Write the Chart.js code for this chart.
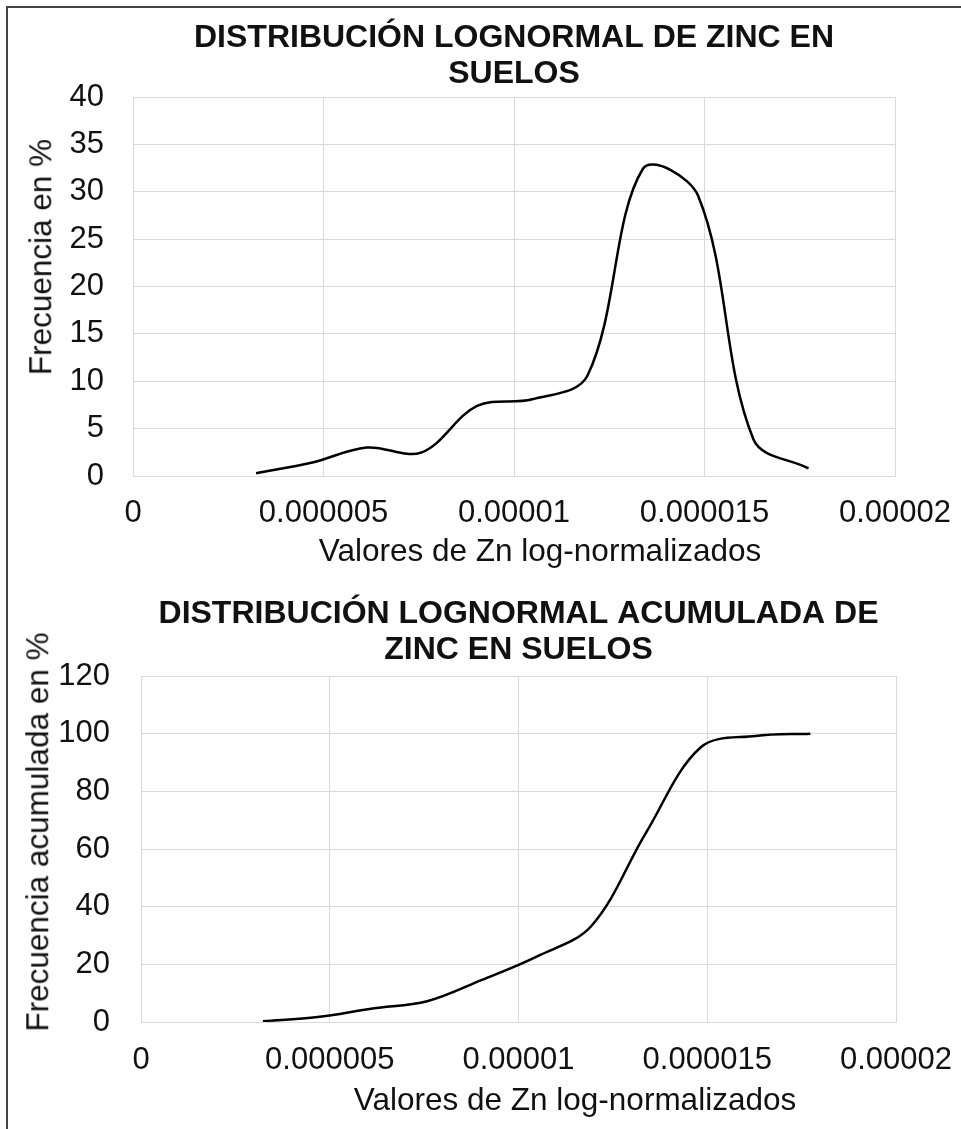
<!DOCTYPE html>
<html lang="es">
<head>
<meta charset="utf-8">
<title>Distribución lognormal de zinc en suelos</title>
<script src="https://cdn.jsdelivr.net/npm/chart.js@4.4.1/dist/chart.umd.min.js"></script>
<style>
    html, body { margin: 0; padding: 0; background: #fff; }
    #pagina { position: relative; width: 961px; height: 1129px; overflow: hidden; font-family: 'Liberation Sans', Arial, sans-serif; color: #111; }
    canvas { position: absolute; left: 0; }
    #grafico-frecuencia { top: 0; }
    #grafico-acumulada { top: 580px; }
    .titulo-eje { position: absolute; font-size: 31.5px; line-height: 1; white-space: nowrap; transform: translate(-50%, -50%); }
    .titulo-eje.vertical { transform: translate(-50%, -50%) rotate(-90deg); }
    #marco { position: absolute; left: 6px; top: 6px; right: -4px; bottom: -4px; border-left: 2px solid #444; border-top: 2px solid #444; pointer-events: none; }
</style>
</head>
<body>
<div id="pagina">
    <canvas id="grafico-frecuencia" width="961" height="580"></canvas>
    <canvas id="grafico-acumulada" width="961" height="549"></canvas>
    <div class="titulo-eje vertical" style="left:40.5px; top:256.5px">Frecuencia en %</div>
    <div class="titulo-eje" style="left:540px; top:551px">Valores de Zn log-normalizados</div>
    <div class="titulo-eje vertical" style="left:37.5px; top:832px">Frecuencia acumulada en %</div>
    <div class="titulo-eje" style="left:575px; top:1099.5px">Valores de Zn log-normalizados</div>
    <div id="marco"></div>
</div>
<script>
const valoresZn = [0.00000323, 0.00000468, 0.00000613, 0.00000758, 0.00000903, 0.00001048,
    0.00001193, 0.00001338, 0.00001483, 0.00001628, 0.00001773];
const frecuencia = [0.3, 1.4, 3.0, 2.5, 7.4, 8.1, 10.6, 32.4, 29.6, 3.9, 0.8];
const frecuenciaAcumulada = [0.3, 1.7, 4.7, 7.2, 14.6, 22.7, 33.3, 65.7, 95.3, 99.2, 100];

const ticksX = [0, 0.000005, 0.00001, 0.000015, 0.00002];
const etiquetasX = ['0', '0.000005', '0.00001', '0.000015', '0.00002'];
const ticksYFrecuencia = [0, 5, 10, 15, 20, 25, 30, 35, 40];
const ticksYAcumulada = [0, 20, 40, 60, 80, 100, 120];

const fuente = "'Liberation Sans', Arial, sans-serif";
const colorTexto = '#111';
const colorRejilla = '#d9d9d9';

function crearGrafico(idCanvas, valoresY, ticksY, titulo, medidas) {
    const puntos = valoresZn.map((x, i) => ({ x: x, y: valoresY[i] }));

    return new Chart(document.getElementById(idCanvas).getContext('2d'), {
        type: 'line',
        data: {
            datasets: [
                {
                    data: puntos,
                    borderColor: '#000',
                    borderWidth: 2.5,
                    pointRadius: 0,
                    tension: 0.35,
                    fill: false,
                },
            ],
        },
        options: {
            responsive: false,
            animation: false,
            devicePixelRatio: 1,
            layout: { padding: { left: 0, right: medidas.derecha, top: 0, bottom: 0 } },
            plugins: {
                legend: { display: false },
                tooltip: { enabled: false },
                title: {
                    display: true,
                    text: titulo,
                    fullSize: false,
                    color: colorTexto,
                    font: { family: fuente, size: 32, weight: 'bold', lineHeight: '36px' },
                    padding: { top: medidas.tituloArriba, bottom: medidas.tituloAbajo },
                },
            },
            scales: {
                x: {
                    type: 'linear',
                    min: 0,
                    max: 0.00002,
                    afterBuildTicks: (eje) => { eje.ticks = ticksX.map((v) => ({ value: v })); },
                    afterFit: (eje) => {
                        eje.height = medidas.altoEjeX;
                        // el margen derecho lo fija layout.padding
                        eje.paddingLeft = 0;
                        eje.paddingRight = 0;
                    },
                    ticks: {
                        padding: medidas.separacionX,
                        color: colorTexto,
                        font: { family: fuente, size: 31 },
                        maxRotation: 0,
                        autoSkip: false,
                        callback: (valor, i) => etiquetasX[i],
                    },
                    grid: { color: colorRejilla, lineWidth: 1, drawTicks: false },
                    border: { color: colorRejilla },
                },
                y: {
                    min: 0,
                    max: ticksY[ticksY.length - 1],
                    afterBuildTicks: (eje) => { eje.ticks = ticksY.map((v) => ({ value: v })); },
                    afterFit: (eje) => { eje.width = medidas.anchoEjeY; },
                    ticks: {
                        padding: medidas.separacionY,
                        color: colorTexto,
                        font: { family: fuente, size: 31 },
                        autoSkip: false,
                        callback: (valor, i) => String(ticksY[i]),
                    },
                    grid: { color: colorRejilla, lineWidth: 1, drawTicks: false },
                    border: { color: colorRejilla },
                },
            },
        },
    });
}

crearGrafico('grafico-frecuencia', frecuencia, ticksYFrecuencia,
    ['DISTRIBUCIÓN LOGNORMAL DE ZINC EN', 'SUELOS'],
    { derecha: 66, tituloArriba: 20, tituloAbajo: 5, altoEjeX: 104, anchoEjeY: 133, separacionX: 19, separacionY: 29 });

crearGrafico('grafico-acumulada', frecuenciaAcumulada, ticksYAcumulada,
    ['DISTRIBUCIÓN LOGNORMAL ACUMULADA DE', 'ZINC EN SUELOS'],
    { derecha: 65, tituloArriba: 16, tituloAbajo: 8, altoEjeX: 107, anchoEjeY: 141, separacionX: 19.5, separacionY: 31 });
</script>
</body>
</html>
